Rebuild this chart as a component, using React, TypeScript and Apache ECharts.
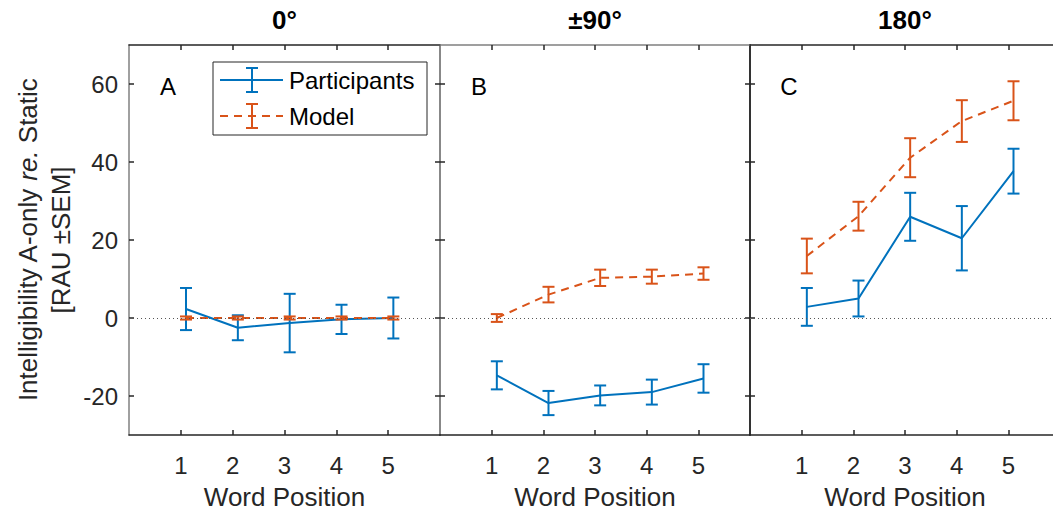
import React, { useEffect, useRef } from "react";
import * as echarts from "echarts";

// ---------- data ----------
const positions = [1, 2, 3, 4, 5];
const yTicks = [-20, 0, 20, 40, 60];
const panelTitles = ["0°", "±90°", "180°"];
const panelLetters = ["A", "B", "C"];

const participantsMean0 = [2.3, -2.5, -1.3, -0.35, 0];
const participantsSem0 = [5.4, 3.2, 7.5, 3.75, 5.25];
const modelMean0 = [0, 0, 0, 0, 0];
const modelSem0 = [0.4, 0.4, 0.4, 0.4, 0.4];

const participantsMean90 = [-14.7, -21.8, -19.85, -19.0, -15.5];
const participantsSem90 = [3.6, 3.1, 2.55, 3.2, 3.65];
const modelMean90 = [0, 6.0, 10.3, 10.6, 11.4];
const modelSem90 = [1.0, 2.0, 2.1, 1.8, 1.6];

const participantsMean180 = [2.85, 5.0, 25.95, 20.45, 37.65];
const participantsSem180 = [4.85, 4.6, 6.15, 8.25, 5.75];
const modelMean180 = [15.9, 26.1, 41.1, 50.5, 55.7];
const modelSem180 = [4.45, 3.7, 5.0, 5.35, 5.0];

const panels = [
  { pm: participantsMean0, ps: participantsSem0, mm: modelMean0, ms: modelSem0 },
  { pm: participantsMean90, ps: participantsSem90, mm: modelMean90, ms: modelSem90 },
  { pm: participantsMean180, ps: participantsSem180, mm: modelMean180, ms: modelSem180 },
];

// ---------- style ----------
const BLUE = "#0072BD";
const ORANGE = "#D95319";
const DARK = "#262626";
const GRAY = "#808080";
const FONT = "'Liberation Sans', Arial, Helvetica, sans-serif";
const X_OFFSET = 0.1;

const TOP = 45;
const HEIGHT = 390;
const gridLefts = [129, 440, 750];
const gridWidth = [311, 310, 310];
const leftColors = [GRAY, GRAY, DARK];
const rightColors = [GRAY, DARK, DARK];
const topColors = [DARK, GRAY, DARK];

function errorBarRender(color: string) {
  return (params: any, api: any) => {
    const x = api.value(0);
    const m = api.value(1);
    const s = api.value(2);
    const hi = api.coord([x, m + s]);
    const lo = api.coord([x, m - s]);
    const w = 6;
    const style = { stroke: color, lineWidth: 2 };
    return {
      type: "group",
      children: [
        { type: "line", shape: { x1: hi[0], y1: hi[1], x2: lo[0], y2: lo[1] }, style },
        { type: "line", shape: { x1: hi[0] - w, y1: hi[1], x2: hi[0] + w, y2: hi[1] }, style },
        { type: "line", shape: { x1: lo[0] - w, y1: lo[1], x2: lo[0] + w, y2: lo[1] }, style },
      ],
    };
  };
}

export default function App() {
  const ref = useRef<HTMLDivElement>(null);
  useEffect(() => {
    if (!ref.current) return;
    const chart = echarts.init(ref.current, null, { renderer: "svg" });

    const grid: any[] = [];
    const xAxis: any[] = [];
    const yAxis: any[] = [];
    const series: any[] = [];
    const graphic: any[] = [];

    panels.forEach((p, i) => {
      grid.push({ left: gridLefts[i], top: TOP, width: gridWidth[i], height: HEIGHT, containLabel: false });
      // bottom x
      xAxis.push({
        type: "value", gridIndex: i, min: 0, max: 6, position: "bottom",
        axisLine: { show: true, onZero: false, lineStyle: { color: DARK, width: 1.5 } },
        axisTick: { show: true, inside: true, length: 5, customValues: positions, lineStyle: { color: DARK, width: 1.5 } },
        axisLabel: { show: true, customValues: positions, margin: 18, color: DARK, fontSize: 24, fontFamily: FONT },
        splitLine: { show: false },
      });
      // top x
      xAxis.push({
        type: "value", gridIndex: i, min: 0, max: 6, position: "top",
        axisLine: { show: true, onZero: false, lineStyle: { color: topColors[i], width: 1.5 } },
        axisTick: { show: true, inside: true, length: 5, customValues: positions, lineStyle: { color: DARK, width: 1.5 } },
        axisLabel: { show: false },
        splitLine: { show: false },
      });
      // left y
      yAxis.push({
        type: "value", gridIndex: i, min: -30, max: 70, position: "left",
        axisLine: { show: true, onZero: false, lineStyle: { color: leftColors[i], width: 1.5 } },
        axisTick: { show: true, inside: true, length: 5, customValues: yTicks, lineStyle: { color: DARK, width: 1.5 } },
        axisLabel: { show: i === 0, customValues: yTicks, margin: 11, color: DARK, fontSize: 24, fontFamily: FONT },
        splitLine: { show: false },
      });
      // right y
      yAxis.push({
        type: "value", gridIndex: i, min: -30, max: 70, position: "right",
        axisLine: { show: true, onZero: false, lineStyle: { color: rightColors[i], width: 1.5 } },
        axisTick: { show: true, inside: true, length: 5, customValues: yTicks, lineStyle: { color: DARK, width: 1.5 } },
        axisLabel: { show: false },
        splitLine: { show: false },
      });

      const xi = i * 2;
      const yi = i * 2;
      // zero reference line
      series.push({
        type: "line", xAxisIndex: xi, yAxisIndex: yi, data: [], silent: true, z: 1,
        markLine: {
          silent: true, symbol: "none", label: { show: false },
          lineStyle: { color: "#555555", width: 1, type: [1, 3] },
          data: [{ yAxis: 0 }],
        },
      });
      series.push({
        type: "line", name: "Participants", xAxisIndex: xi, yAxisIndex: yi, z: 2,
        data: positions.map((x, k) => [x + X_OFFSET, p.pm[k]]),
        showSymbol: false, lineStyle: { color: BLUE, width: 2 },
      });
      series.push({
        type: "custom", xAxisIndex: xi, yAxisIndex: yi, z: 2,
        data: positions.map((x, k) => [x + X_OFFSET, p.pm[k], p.ps[k]]),
        renderItem: errorBarRender(BLUE),
      });
      series.push({
        type: "line", name: "Model", xAxisIndex: xi, yAxisIndex: yi, z: 3,
        data: positions.map((x, k) => [x + X_OFFSET, p.mm[k]]),
        showSymbol: false, lineStyle: { color: ORANGE, width: 2, type: [8, 6] },
      });
      series.push({
        type: "custom", xAxisIndex: xi, yAxisIndex: yi, z: 3,
        data: positions.map((x, k) => [x + X_OFFSET, p.mm[k], p.ms[k]]),
        renderItem: errorBarRender(ORANGE),
      });

      const cx = gridLefts[i] + gridWidth[i] / 2;
      graphic.push({
        type: "text", x: cx, y: 20,
        style: { text: panelTitles[i], font: `bold 26px ${FONT}`, fill: "#000", align: "center", verticalAlign: "middle" },
      });
      graphic.push({
        type: "text", x: cx, y: 497,
        style: { text: "Word Position", font: `26px ${FONT}`, fill: DARK, align: "center", verticalAlign: "middle" },
      });
      graphic.push({
        type: "text", x: gridLefts[i] + 39, y: 86,
        style: { text: panelLetters[i], font: `24px ${FONT}`, fill: "#000", align: "center", verticalAlign: "middle" },
      });
    });

    // y-axis title
    graphic.push({
      type: "text", x: 28, y: 240, rotation: Math.PI / 2,
      style: {
        text: "{n|Intelligibility A-only }{i|re.}{n| Static}",
        align: "center", verticalAlign: "middle",
        rich: {
          n: { font: `26px ${FONT}`, fill: DARK },
          i: { font: `italic 26px ${FONT}`, fill: DARK },
        },
      },
    });
    graphic.push({
      type: "text", x: 61, y: 240, rotation: Math.PI / 2,
      style: { text: "[RAU ±SEM]", font: `26px ${FONT}`, fill: DARK, align: "center", verticalAlign: "middle" },
    });

    // legend
    const lx = 213, ly = 62;
    graphic.push({ type: "rect", shape: { x: lx, y: ly, width: 214, height: 73 }, style: { fill: "#fff", stroke: DARK, lineWidth: 1 }, z: 10 });
    const rows = [
      { label: "Participants", color: BLUE, dash: null as any, y: ly + 18 },
      { label: "Model", color: ORANGE, dash: [8, 6], y: ly + 54 },
    ];
    rows.forEach((r) => {
      graphic.push({ type: "line", z: 11, shape: { x1: lx + 7, y1: r.y, x2: lx + 70, y2: r.y }, style: { stroke: r.color, lineWidth: 2, lineDash: r.dash } });
      const ex = lx + 39;
      graphic.push({ type: "line", z: 11, shape: { x1: ex, y1: r.y - 12, x2: ex, y2: r.y + 12 }, style: { stroke: r.color, lineWidth: 2 } });
      graphic.push({ type: "line", z: 11, shape: { x1: ex - 6, y1: r.y - 12, x2: ex + 6, y2: r.y - 12 }, style: { stroke: r.color, lineWidth: 2 } });
      graphic.push({ type: "line", z: 11, shape: { x1: ex - 6, y1: r.y + 12, x2: ex + 6, y2: r.y + 12 }, style: { stroke: r.color, lineWidth: 2 } });
      graphic.push({ type: "text", z: 11, x: lx + 76, y: r.y, style: { text: r.label, font: `24px ${FONT}`, fill: "#000", align: "left", verticalAlign: "middle" } });
    });

    chart.setOption({
      animation: false,
      backgroundColor: "#fff",
      grid, xAxis, yAxis, series, graphic,
    });
    return () => chart.dispose();
  }, []);

  return (
    <div style={{ position: "absolute", left: 0, top: 0, width: 1053, height: 511, overflow: "hidden" }}>
      <div ref={ref} style={{ width: 1070, height: 511 }} />
    </div>
  );
}
